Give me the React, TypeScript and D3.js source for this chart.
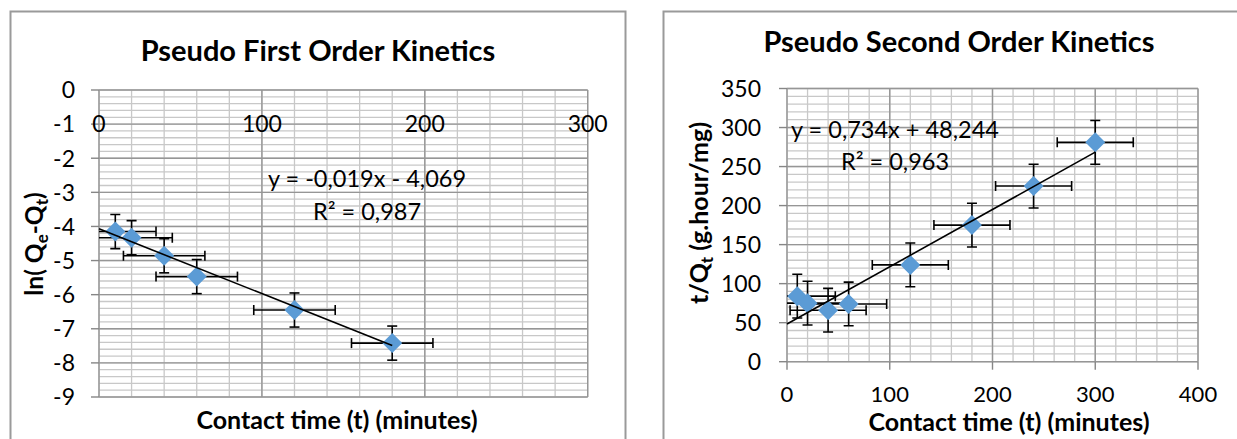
import React from "react";
import * as d3 from "d3";

// Pseudo first order (left panel)
const firstTime = [10, 20, 40, 60, 120, 180];
const firstLnQ = [-4.15, -4.33, -4.86, -5.47, -6.45, -7.42];
const firstXErr = [25, 25, 25, 25, 25, 25];
const firstYErr = [0.5, 0.5, 0.5, 0.5, 0.5, 0.5];
const firstXTicks = [0, 100, 200, 300];
const firstYTicks = [0, -1, -2, -3, -4, -5, -6, -7, -8, -9];
const firstFit = { slope: -0.019, intercept: -4.069, from: 0, to: 180 };
const firstEquation = ["y = -0,019x - 4,069", "R² = 0,987"];

// Pseudo second order (right panel)
const secondTime = [10, 20, 40, 60, 120, 180, 240, 300];
const secondRatio = [84, 75, 66, 74, 124, 175, 225, 281];
const secondXErr = [37, 37, 37, 37, 37, 37, 37, 37];
const secondYErr = [28, 28, 28, 28, 28, 28, 28, 28];
const secondXTicks = [0, 100, 200, 300, 400];
const secondYTicks = [0, 50, 100, 150, 200, 250, 300, 350];
const secondFit = { slope: 0.734, intercept: 48.244, from: 0, to: 300 };
const secondEquation = ["y = 0,734x + 48,244", "R² = 0,963"];

const FONT = "Lato, 'Open Sans', sans-serif";
const BLUE = "#5b9bd5";

type PanelProps = {
  id: string;
  xs: number[];
  ys: number[];
  xErr: number[];
  yErr: number[];
  xTicks: number[];
  yTicks: number[];
  xMinor: number;
  yMinor: number;
  fit: { slope: number; intercept: number; from: number; to: number };
  equation: string[];
  box: { left: number; right: number; top: number; bottom: number };
  xLabelY: number;
  xLabelSize: number;
  yLabelX: number;
  xAxisAtTop: boolean;
  title: string;
  titleSize: number;
  titlePos: [number, number];
  xTitlePos: [number, number];
  yTitlePos: [number, number];
  yTitleSize: number;
  yTitle: React.ReactNode;
  eqPos: [number, number, number];
};

function Panel(p: PanelProps) {
  const x = d3.scaleLinear().domain(d3.extent(p.xTicks) as [number, number]).range([p.box.left, p.box.right]);
  const y = d3.scaleLinear().domain(d3.extent(p.yTicks) as [number, number]).range([p.box.bottom, p.box.top]);

  const [x0, x1] = x.domain();
  const [y0, y1] = y.domain();
  const xMinorVals = d3.range(x0, x1 + 1e-9, p.xMinor);
  const yMinorVals = d3.range(y0, y1 + 1e-9, p.yMinor);
  const diamond = d3.symbol(d3.symbolSquare, 200)()!;
  const cap = 5;

  return (
    <g>
      <defs>
        <clipPath id={p.id}>
          <rect x={p.box.left} y={p.box.top} width={p.box.right - p.box.left} height={p.box.bottom - p.box.top} />
        </clipPath>
      </defs>

      {/* minor grid */}
      {xMinorVals.map((v, i) => (
        <line key={"xm" + i} x1={x(v)} x2={x(v)} y1={p.box.top} y2={p.box.bottom} stroke="#c8c8c8" strokeWidth={1.3} />
      ))}
      {yMinorVals.map((v, i) => (
        <line key={"ym" + i} x1={p.box.left} x2={p.box.right} y1={y(v)} y2={y(v)} stroke="#c8c8c8" strokeWidth={1.3} />
      ))}
      {/* major grid */}
      {p.xTicks.map(v => (
        <line key={"xM" + v} x1={x(v)} x2={x(v)} y1={p.box.top} y2={p.box.bottom} stroke="#969696" strokeWidth={1.4} />
      ))}
      {p.yTicks.map(v => (
        <line key={"yM" + v} x1={p.box.left} x2={p.box.right} y1={y(v)} y2={y(v)} stroke="#969696" strokeWidth={1.4} />
      ))}

      {/* y axis ticks + labels */}
      {p.yTicks.map(v => (
        <g key={"yt" + v}>
          <line x1={p.box.left - 8} x2={p.box.left} y1={y(v)} y2={y(v)} stroke="#868686" strokeWidth={1.4} />
          <text x={p.yLabelX} y={y(v)} dy="0.36em" textAnchor="end" fontSize={23} fontFamily={FONT} fill="#000">
            {v}
          </text>
        </g>
      ))}
      {/* x axis ticks + labels */}
      {p.xTicks.map(v => (
        <g key={"xt" + v}>
          {!p.xAxisAtTop && (
            <line x1={x(v)} x2={x(v)} y1={p.box.bottom} y2={p.box.bottom + 8} stroke="#868686" strokeWidth={1.4} />
          )}
          <text x={x(v)} y={p.xLabelY} dy="0.36em" textAnchor="middle" fontSize={p.xLabelSize} fontFamily={FONT} fill="#000">
            {v}
          </text>
        </g>
      ))}

      {/* error bars */}
      <g clipPath={`url(#${p.id})`} stroke="#000" strokeWidth={1.6}>
        {p.xs.map((v, i) => {
          const cx = x(v);
          const cy = y(p.ys[i]);
          const xa = x(v - p.xErr[i]);
          const xb = x(v + p.xErr[i]);
          const ya = y(p.ys[i] + p.yErr[i]);
          const yb = y(p.ys[i] - p.yErr[i]);
          return (
            <g key={"e" + i}>
              <line x1={cx} x2={cx} y1={ya} y2={yb} />
              <line x1={cx - cap} x2={cx + cap} y1={ya} y2={ya} />
              <line x1={cx - cap} x2={cx + cap} y1={yb} y2={yb} />
              <line x1={xa} x2={xb} y1={cy} y2={cy} />
              <line x1={xa} x2={xa} y1={cy - cap} y2={cy + cap} />
              <line x1={xb} x2={xb} y1={cy - cap} y2={cy + cap} />
            </g>
          );
        })}
      </g>

      {/* markers */}
      {p.xs.map((v, i) => (
        <path key={"m" + i} d={diamond} transform={`translate(${x(v)},${y(p.ys[i])}) rotate(45)`} fill={BLUE} />
      ))}

      {/* trend line */}
      <line
        x1={x(p.fit.from)}
        y1={y(p.fit.slope * p.fit.from + p.fit.intercept)}
        x2={x(p.fit.to)}
        y2={y(p.fit.slope * p.fit.to + p.fit.intercept)}
        stroke="#000"
        strokeWidth={1.6}
      />

      {/* equation */}
      <text x={p.eqPos[0]} y={p.eqPos[1]} textAnchor="middle" fontSize={23.5} fontFamily={FONT}>
        {p.equation[0]}
      </text>
      <text x={p.eqPos[0]} y={p.eqPos[2]} textAnchor="middle" fontSize={23.5} fontFamily={FONT}>
        {p.equation[1]}
      </text>

      {/* titles */}
      <text x={p.titlePos[0]} y={p.titlePos[1]} textAnchor="middle" fontSize={p.titleSize} fontWeight="bold" fontFamily={FONT}>
        {p.title}
      </text>
      <text x={p.xTitlePos[0]} y={p.xTitlePos[1]} textAnchor="middle" fontSize={25} fontWeight="bold" fontFamily={FONT}>
        Contact time (t) (minutes)
      </text>
      <text
        transform={`translate(${p.yTitlePos[0]},${p.yTitlePos[1]}) rotate(-90)`}
        textAnchor="middle"
        fontSize={p.yTitleSize}
        fontWeight="bold"
        fontFamily={FONT}
      >
        {p.yTitle}
      </text>
    </g>
  );
}

export default function App() {
  return (
    <svg width={1237} height={439} style={{ position: "absolute", left: 0, top: 0, background: "#fff" }}>
      <rect x={10.5} y={11.5} width={615} height={500} fill="#fff" stroke="#9a9a9a" strokeWidth={2} />
      <rect x={663.5} y={11.5} width={620} height={500} fill="#fff" stroke="#9a9a9a" strokeWidth={2} />

      <Panel
        id="clipFirst"
        xs={firstTime}
        ys={firstLnQ}
        xErr={firstXErr}
        yErr={firstYErr}
        xTicks={firstXTicks}
        yTicks={firstYTicks}
        xMinor={20}
        yMinor={0.2}
        fit={firstFit}
        equation={firstEquation}
        box={{ left: 99, right: 587.7, top: 90, bottom: 397 }}
        xLabelY={124}
        xLabelSize={23}
        yLabelX={75}
        xAxisAtTop={true}
        title="Pseudo First Order Kinetics"
        titleSize={29}
        titlePos={[318, 61]}
        xTitlePos={[337, 429]}
        yTitlePos={[43, 244]}
        yTitleSize={24.5}
        yTitle={
          <>
            {"ln( Q"}
            <tspan fontSize={17} dy={5}>e</tspan>
            <tspan dy={-5}>-Q</tspan>
            <tspan fontSize={17} dy={5}>t</tspan>
            <tspan dy={-5}>)</tspan>
          </>
        }
        eqPos={[367, 187, 220]}
      />

      <Panel
        id="clipSecond"
        xs={secondTime}
        ys={secondRatio}
        xErr={secondXErr}
        yErr={secondYErr}
        xTicks={secondXTicks}
        yTicks={secondYTicks}
        xMinor={20}
        yMinor={10}
        fit={secondFit}
        equation={secondEquation}
        box={{ left: 787, right: 1198, top: 88.5, bottom: 361.7 }}
        xLabelY={394}
        xLabelSize={22}
        yLabelX={761}
        xAxisAtTop={false}
        title="Pseudo Second Order Kinetics"
        titleSize={29}
        titlePos={[959, 52]}
        xTitlePos={[1009, 431]}
        yTitlePos={[708, 213]}
        yTitleSize={25}
        yTitle={
          <>
            t/Q<tspan fontSize={17} dy={5}>t</tspan>
            <tspan dy={-5}> (g.hour/mg)</tspan>
          </>
        }
        eqPos={[895, 138, 170]}
      />
    </svg>
  );
}
